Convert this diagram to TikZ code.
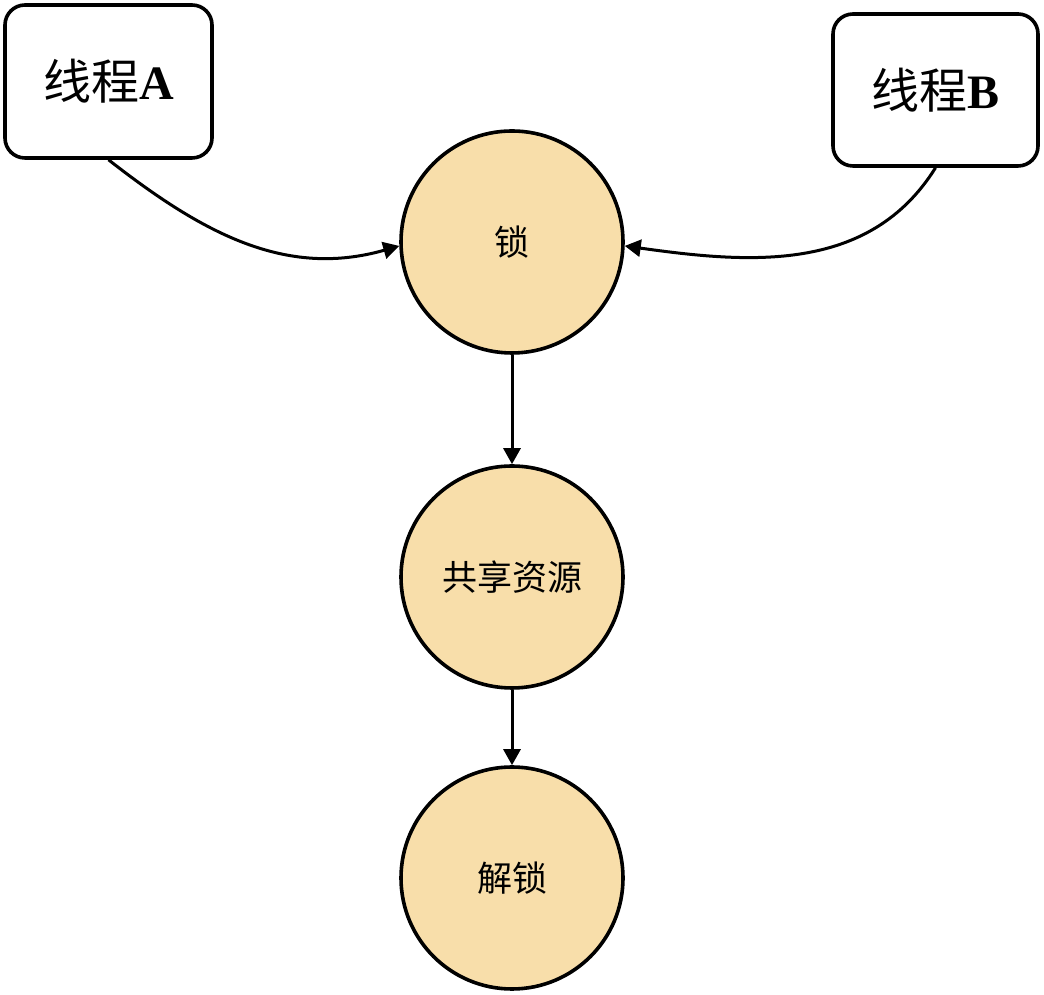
\documentclass[tikz,border=0pt]{standalone}
\usepackage{fontspec}
\setmainfont{Liberation Serif}
\newfontfamily\cjk{Noto Sans CJK SC}
\usetikzlibrary{arrows.meta}
\definecolor{lockfill}{RGB}{248,222,170}
\begin{document}
\begin{tikzpicture}[x=1pt, y=1pt,
  thr/.style={draw, line width=3.6pt, rounded corners=20pt, fill=white},
  stage/.style={circle, draw, line width=3.6pt, fill=lockfill, minimum size=222pt, inner sep=0pt},
  link/.style={line width=3pt, -{Triangle[length=16pt, width=17pt]}}]
\useasboundingbox (0,0) rectangle (1044,995);
\node[thr, minimum width=207pt, minimum height=153pt, font=\fontsize{48}{48}\selectfont] (thrA) at (108.5,913.5){{\cjk 线程}\textbf{A}};
\node[thr, minimum width=205pt, minimum height=152pt, font=\fontsize{48}{48}\selectfont] (thrB) at (935.5,905){{\cjk 线程}\textbf{B}};
\node[stage, font=\fontsize{35}{35}\selectfont\cjk] (lock) at (512,753){锁};
\node[stage, font=\fontsize{35}{35}\selectfont\cjk] (res) at (512,418){共享资源};
\node[stage, font=\fontsize{35}{35}\selectfont\cjk] (unlock) at (512,117){解锁};
\draw[link](thrA.south) to[out=-38, in=196] (lock.182);
\draw[link](thrB.south) to[out=-122, in=-8] (lock.-2);
\draw[link](lock) -- (res);
\draw[link](res) -- (unlock);
\end{tikzpicture}
\end{document}
